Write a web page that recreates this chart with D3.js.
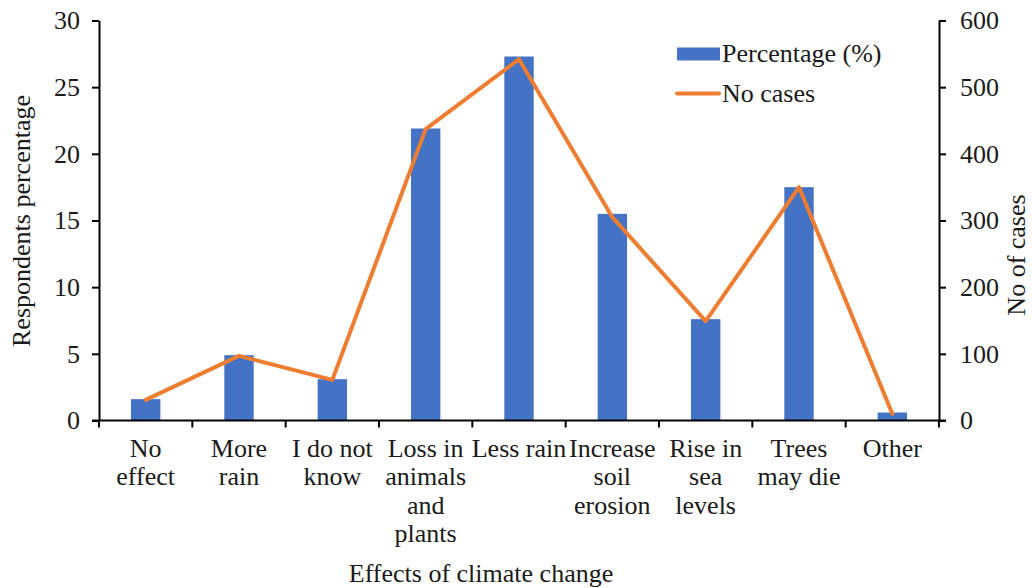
<!DOCTYPE html>
<html>
<head>
<meta charset="utf-8">
<script src="https://cdn.jsdelivr.net/npm/d3@7"></script>
<style>
  html, body { margin: 0; padding: 0; background: #fff; }
</style>
</head>
<body>
<svg id="chart" width="1033" height="588"></svg>
<script>
// Effects of climate change reported by respondents
const categories = [
  ["No", "effect"],
  ["More", "rain"],
  ["I do not", "know"],
  ["Loss in", "animals", "and", "plants"],
  ["Less rain"],
  ["Increase", "soil", "erosion"],
  ["Rise in", "sea", "levels"],
  ["Trees", "may die"],
  ["Other"]
];
const percentage = [1.6, 4.9, 3.1, 21.9, 27.3, 15.5, 7.6, 17.5, 0.6];
const noCases = [31, 97, 61, 437, 542, 305, 149, 350, 10];
const leftTicks = [0, 5, 10, 15, 20, 25, 30];
const rightTicks = [0, 100, 200, 300, 400, 500, 600];

const FONT = "'Liberation Serif'";
const fs = 26;
const ink = "#1a1a1a";

const svg = d3.select("#chart");
const x0 = 99, x1 = 939;
const yTop = 20.5, yBot = 420.5;

const labels = categories.map(c => c.join(" "));
const x = d3.scaleBand().domain(labels).range([x0, x1]).paddingInner(0).paddingOuter(0);
const yL = d3.scaleLinear().domain([0, 30]).range([yBot, yTop]);
const yR = d3.scaleLinear().domain([0, 600]).range([yBot, yTop]);

const blue = "#4472C4", orange = "#ED7D31";
const barW = x.bandwidth() * 0.315;

// bars
svg.append("g").selectAll("rect").data(percentage).join("rect")
  .attr("x", (d, i) => x(labels[i]) + x.bandwidth() / 2 - barW / 2)
  .attr("y", d => yL(d))
  .attr("width", barW)
  .attr("height", d => yBot - yL(d))
  .attr("fill", blue);

// line
const line = d3.line()
  .x((d, i) => x(labels[i]) + x.bandwidth() / 2)
  .y(d => yR(d));
svg.append("path").datum(noCases)
  .attr("d", line)
  .attr("fill", "none")
  .attr("stroke", orange)
  .attr("stroke-width", 4)
  .attr("stroke-linejoin", "round")
  .attr("stroke-linecap", "round");

// left axis
const gL = svg.append("g").attr("transform", `translate(${x0},0)`)
  .call(d3.axisLeft(yL).tickValues(leftTicks).tickSize(7).tickPadding(12).tickSizeOuter(0));
// right axis
const gR = svg.append("g").attr("transform", `translate(${x1},0)`)
  .call(d3.axisRight(yR).tickValues(rightTicks).tickSize(7).tickPadding(14).tickSizeOuter(0));
// bottom axis with ticks at category boundaries
const gB = svg.append("g").attr("transform", `translate(0,${yBot})`)
  .call(d3.axisBottom(x).tickSize(0).tickSizeOuter(0).tickFormat(""));
gB.selectAll(".tick").remove();
const bounds = labels.map(l => x(l)).concat([x1]);
gB.selectAll("line.b").data(bounds).join("line")
  .attr("class", "b")
  .attr("x1", d => d).attr("x2", d => d)
  .attr("y1", 0).attr("y2", 7)
  .attr("stroke", "#000").attr("stroke-width", 2);

[gL, gR, gB].forEach(g => {
  g.attr("font-family", FONT);
  g.select(".domain").attr("stroke", "#000").attr("stroke-width", 2);
  g.selectAll(".tick line").attr("stroke", "#000").attr("stroke-width", 2);
  g.selectAll(".tick text").attr("font-size", fs).attr("fill", ink)
    .style("font-family", FONT);
});
gB.select(".domain").attr("d", `M${x0 - 7},0H${x1 + 7}`);

// category labels
const catG = svg.append("g");
categories.forEach((lines, i) => {
  const cx = x(labels[i]) + x.bandwidth() / 2;
  const t = catG.append("text").attr("text-anchor", "middle").attr("font-size", fs)
    .attr("fill", ink).style("font-family", FONT);
  lines.forEach((s, j) => {
    t.append("tspan").attr("x", cx).attr("y", 457 + j * 28.4).text(s);
  });
});

// axis titles
svg.append("text").attr("text-anchor", "middle").attr("font-size", fs)
  .attr("fill", ink).style("font-family", FONT)
  .attr("transform", "translate(30,221) rotate(-90)")
  .text("Respondents percentage");
svg.append("text").attr("text-anchor", "middle").attr("font-size", fs)
  .attr("fill", ink).style("font-family", FONT)
  .attr("transform", "translate(1025,255) rotate(-90)")
  .text("No of cases");
svg.append("text").attr("text-anchor", "middle").attr("font-size", fs)
  .attr("fill", ink).style("font-family", FONT)
  .attr("x", 481).attr("y", 582)
  .text("Effects of climate change");

// legend
const lg = svg.append("g");
lg.append("rect").attr("x", 677).attr("y", 47.5).attr("width", 43).attr("height", 13).attr("fill", blue);
lg.append("text").attr("x", 722).attr("y", 62).attr("font-size", fs)
  .attr("fill", ink).style("font-family", FONT).text("Percentage (%)");
lg.append("line").attr("x1", 677).attr("x2", 719).attr("y1", 93.5).attr("y2", 93.5)
  .attr("stroke", orange).attr("stroke-width", 4).attr("stroke-linecap", "round");
lg.append("text").attr("x", 722).attr("y", 102).attr("font-size", fs)
  .attr("fill", ink).style("font-family", FONT).text("No cases");
</script>
</body>
</html>
